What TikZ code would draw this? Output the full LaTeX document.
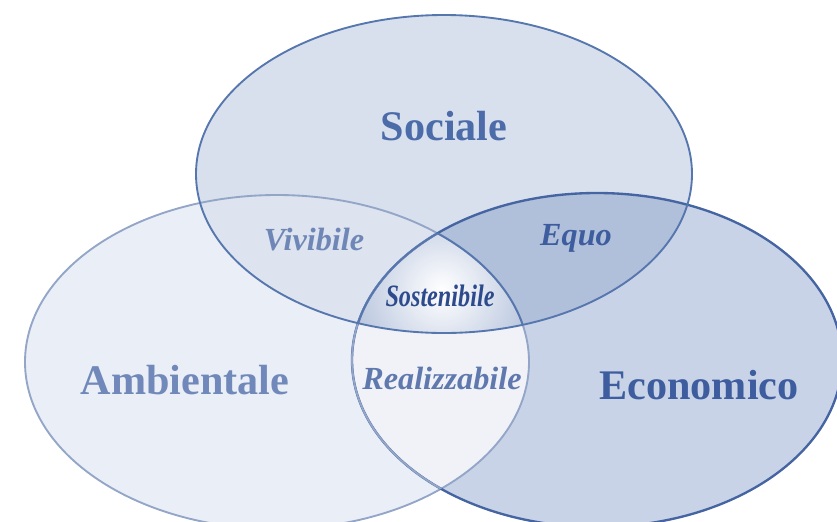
\documentclass[tikz,border=0pt]{standalone}
\usepackage{fontspec}
\setmainfont{Liberation Serif}
\usetikzlibrary{positioning}
\definecolor{VennSocFill}{HTML}{D8E0EE}
\definecolor{VennAmbFill}{HTML}{EAEEF6}
\definecolor{VennEcoFill}{HTML}{C9D3E7}
\definecolor{VennVivFill}{HTML}{DDE3EF}
\definecolor{VennEquoFill}{HTML}{B0BFDA}
\definecolor{VennRealFill}{HTML}{F0F2F7}
\definecolor{VennCoreEdge}{HTML}{AEBDD9}
\definecolor{VennLineDark}{HTML}{4464A2}
\definecolor{VennLineMid}{HTML}{5676AE}
\definecolor{VennLineSoft}{HTML}{93A6C8}
\definecolor{VennTxtSoc}{HTML}{4B6BA9}
\definecolor{VennTxtAmb}{HTML}{7088BA}
\definecolor{VennTxtEco}{HTML}{3D5D9F}
\definecolor{VennTxtViv}{HTML}{6F87B7}
\definecolor{VennTxtReal}{HTML}{5F79AF}
\definecolor{VennTxtCore}{HTML}{2D4A8C}

% the three sets, in pixel units of the picture
\newcommand{\socPath}{(444,174) ellipse [x radius=248, y radius=159]}
\newcommand{\ambPath}{(277,362) ellipse [x radius=252, y radius=167]}
\newcommand{\ecoPath}{(597,360) ellipse [x radius=245, y radius=167]}

\begin{document}
\begin{tikzpicture}[
    x=0.03cm, y=-0.03cm,
    setname/.style={font=\fontsize{36}{40}\selectfont\bfseries, inner sep=0pt},
    pairname/.style={font=\fontsize{27.5}{30}\selectfont\bfseries\itshape, inner sep=0pt},
    setline/.style={line width=1.6pt}
  ]
    \useasboundingbox (0,0) rectangle (837,521);

    % fills
    \fill[VennAmbFill] \ambPath;
    \fill[VennEcoFill] \ecoPath;
    \begin{scope}
      \clip \ambPath;
      \fill[VennRealFill] \ecoPath;
    \end{scope}
    \fill[VennSocFill] \socPath;
    \begin{scope}
      \clip \socPath;
      \fill[VennVivFill] \ambPath;
      \fill[VennEquoFill] \ecoPath;
      \clip \ambPath;
      \clip \ecoPath;
      \shade[inner color=white, outer color=VennCoreEdge] (442,290) circle (105);
    \end{scope}

    % outlines
    \draw[setline, VennLineSoft] \ambPath;
    \draw[setline, VennLineDark, line width=2pt] \ecoPath;
    \begin{scope}
      \clip \ambPath;
      \draw[setline, VennLineSoft] \ecoPath;
    \end{scope}
    \begin{scope}
      \clip \socPath;
      \clip \ecoPath;
      \draw[setline, VennLineMid] \ambPath;
    \end{scope}
    \begin{scope}
      \clip \socPath;
      \clip \ambPath;
      \draw[setline, VennLineMid] \ecoPath;
    \end{scope}
    \draw[setline, VennLineMid] \socPath;

    % labels
    \node[setname, text=VennTxtSoc] (sociale) at (444,126) {Sociale};
    \node[setname, text=VennTxtAmb] (ambientale) at (185,380) {Ambientale};
    \node[setname, text=VennTxtEco] (economico) at (699,385) {Economico};
    \node[pairname, text=VennTxtViv] (vivibile) at (314,240) {Vivibile};
    \node[pairname, text=VennTxtEco] (equo) at (576,238) {Equo};
    \node[pairname, text=VennTxtReal] (realizzabile) at (442,378) {Realizzabile};
    \node[pairname, text=VennTxtCore, font=\fontsize{26.5}{28}\selectfont\bfseries\itshape, xscale=0.78] (sostenibile) at (440,296) {Sostenibile};
  \end{tikzpicture}
\end{document}
